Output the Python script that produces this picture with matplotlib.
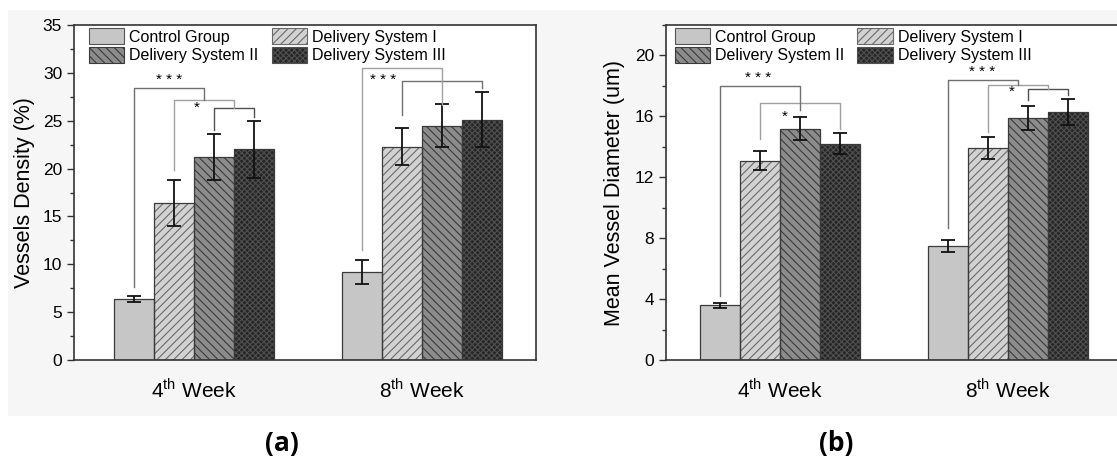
import numpy as np
import matplotlib
matplotlib.use('Agg')
import matplotlib.pyplot as plt
from matplotlib.patches import Patch, Rectangle
from matplotlib.ticker import MultipleLocator

plt.rcParams['font.family'] = ['Liberation Sans', 'DejaVu Sans']
plt.rcParams['mathtext.fontset'] = 'custom'
plt.rcParams['mathtext.rm'] = 'Liberation Sans'
plt.rcParams['hatch.linewidth'] = 0.8

# data
weeks = [r'4$^{\rm th}$ Week', r'8$^{\rm th}$ Week']
groups = ['Control Group', 'Delivery System I', 'Delivery System II', 'Delivery System III']

density_mean = [[6.4, 16.4, 21.2, 22.0],
                [9.2, 22.3, 24.5, 25.1]]
density_err = [[0.3, 2.4, 2.4, 3.0],
               [1.25, 1.95, 2.2, 2.85]]

diam_mean = [[3.6, 13.1, 15.2, 14.2],
             [7.5, 13.9, 15.9, 16.3]]
diam_err = [[0.17, 0.65, 0.75, 0.7],
            [0.38, 0.72, 0.78, 0.84]]

# significance brackets per week: (left, right, level, y left end, y right end, colour)
# 'mN' = middle of bracket N of the same list
density_brackets = [
    [(2, 3, 26.3, 24.0, 25.4, '#505050'),
     (1, 'm0', 27.2, 19.9, 26.3, '#a0a0a0'),
     (0, 'm1', 28.4, 7.6, 27.2, '#707070')],
    [(1, 3, 29.1, 25.6, 28.4, '#707070'),
     (0, 2, 30.5, 11.5, 26.6, '#a0a0a0')],
]
diam_brackets = [
    [(1, 3, 16.85, 14.5, 15.2, '#a0a0a0'),
     (0, 2, 18.0, 4.2, 16.4, '#707070')],
    [(2, 3, 17.8, 17.1, 17.4, '#505050'),
     (1, 'm0', 18.05, 14.95, 17.8, '#a0a0a0'),
     (0, 'm1', 18.4, 8.7, 18.05, '#707070')],
]
# stars: (week, text, offset from week centre, y)
density_stars = [(0, '* * *', -0.11, 29.3), (0, '*', 0.01, 26.3), (1, '* * *', -0.17, 29.3)]
diam_stars = [(0, '* * *', -0.096, 18.5), (0, '*', 0.022, 16.0),
              (1, '* * *', -0.114, 18.9), (1, '*', 0.018, 17.6)]

faces = ['#c6c6c6', '#d2d2d2', '#8c8c8c', '#262626']
hatches = ['', '////', '\\\\\\\\', 'xxxxxx']
hatch_cols = ['#555555', '#6a6a6a', '#3a3a3a', '#505050']
w = 0.175
x = np.array([1, 2])


def panel(ax, means, errs, brackets, stars, ylabel, ymax, major, xlim, leg_x):
    means = np.array(means)
    errs = np.array(errs)
    for k in range(4):
        pos = x + (k - 1.5) * w
        ax.bar(pos, means[:, k], w, color=faces[k], edgecolor=hatch_cols[k],
               hatch=hatches[k], linewidth=0, zorder=2)
        ax.bar(pos, means[:, k], w, fill=False, edgecolor='#3a3a3a', linewidth=0.9, zorder=3)
        ax.errorbar(pos, means[:, k], yerr=errs[:, k], fmt='none', ecolor='#111111',
                    elinewidth=1.3, capsize=5, capthick=1.3, zorder=4)
    for g in range(2):
        centres = x[g] + (np.arange(4) - 1.5) * w
        mids = []
        for left, right, level, yl, yr, col in brackets[g]:
            xl = centres[left] if not isinstance(left, str) else mids[int(left[1:])]
            xr = centres[right] if not isinstance(right, str) else mids[int(right[1:])]
            ax.plot([xl, xl, xr, xr], [yl, level, level, yr], color=col, lw=1.0, zorder=5)
            mids.append((xl + xr) / 2)
    for g, txt, off, y in stars:
        ax.text(x[g] + off, y, txt, ha='center', va='center', fontsize=11, zorder=6)

    ax.set_xlim(*xlim)
    ax.set_ylim(0, ymax)
    ax.set_xticks(x)
    ax.set_xticklabels(weeks, fontsize=15)
    ax.tick_params(axis='x', length=0, pad=13)
    ax.yaxis.set_major_locator(MultipleLocator(major))
    ax.yaxis.set_minor_locator(MultipleLocator(major / 2))
    ax.tick_params(axis='y', which='major', direction='out', length=5, width=1, labelsize=12.5,
                   color='#333333')
    ax.tick_params(axis='y', which='minor', direction='out', length=3, width=1, color='#333333')
    ax.set_ylabel(ylabel, fontsize=15.5)
    for s in ax.spines.values():
        s.set_color('#333333')
        s.set_linewidth(1.2)
    handles = [Patch(facecolor=faces[k], edgecolor=hatch_cols[k], hatch=hatches[k], linewidth=0.8)
               for k in range(4)]
    order = [0, 2, 1, 3]  # legend fills by column: row 1 = Control, DS I
    ax.legend([handles[i] for i in order], [groups[i] for i in order], loc='upper left',
              bbox_to_anchor=(leg_x, 1.0), ncol=2,
              frameon=False, fontsize=11.5, handlelength=2.2, handleheight=1.15,
              labelspacing=0.15, handletextpad=0.35, columnspacing=0.8, borderaxespad=0.1,
              borderpad=0.1)


fig = plt.figure(figsize=(11.17, 4.58), dpi=100)
fig.patches.append(Rectangle((8 / 1117, 1 - 416 / 458), 1, (416 - 10) / 458,
                             transform=fig.transFigure, facecolor='#f6f6f6',
                             edgecolor='none', zorder=-10))

ax1 = fig.add_axes([74 / 1117, 98 / 458, 462 / 1117, 335 / 458])
ax2 = fig.add_axes([666 / 1117, 98 / 458, 456 / 1117, 335 / 458])

panel(ax1, density_mean, density_err, density_brackets, density_stars,
      'Vessels Density (%)', 35, 5, (0.474, 2.5), 0.025)
panel(ax2, diam_mean, diam_err, diam_brackets, diam_stars,
      'Mean Vessel Diameter (um)', 22, 4, (0.5, 2.5), 0.012)
ax1.yaxis.set_label_coords(-0.085, 0.5)
ax2.yaxis.set_label_coords(-0.09, 0.5)

fig.text(282 / 1117, 1 - 443 / 458, '(a)', ha='center', va='center', fontsize=19,
         fontweight='bold', family=['Open Sans', 'DejaVu Sans'])
fig.text(836 / 1117, 1 - 443 / 458, '(b)', ha='center', va='center', fontsize=19,
         fontweight='bold', family=['Open Sans', 'DejaVu Sans'])

fig.savefig('out.png', dpi=100)
